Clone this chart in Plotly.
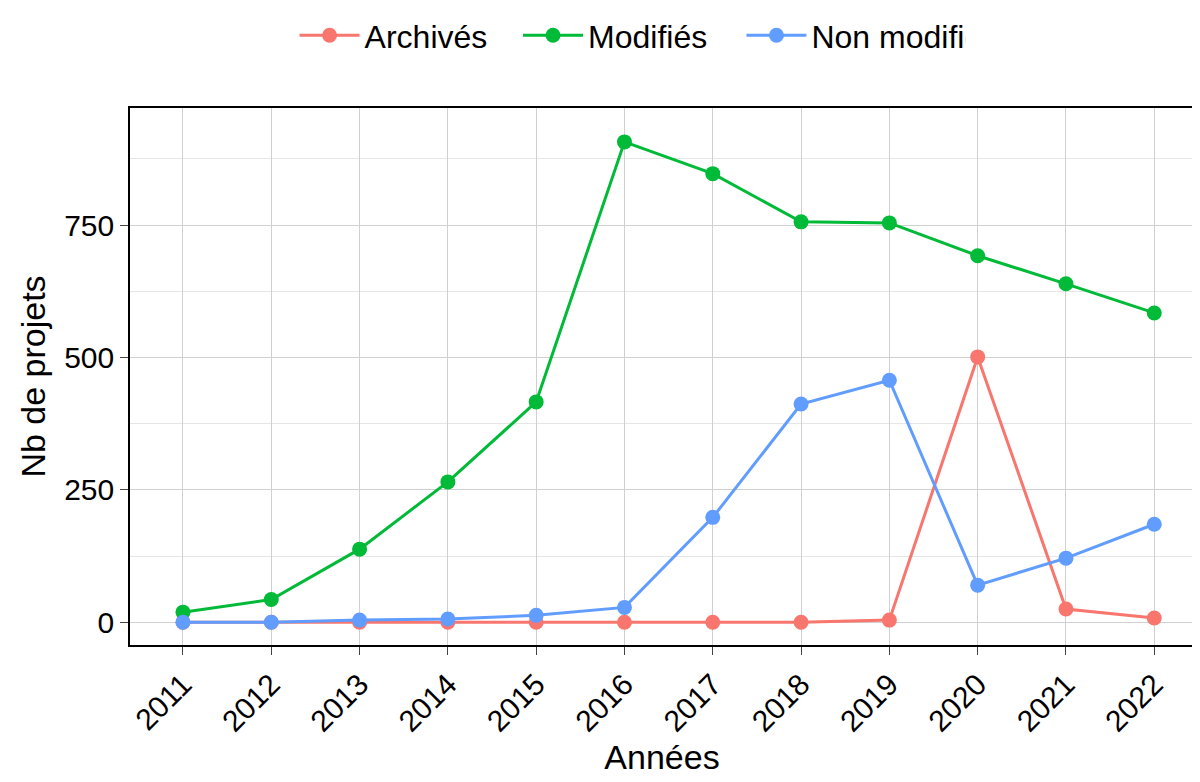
import plotly.graph_objects as go

years = list(range(2011, 2023))
archives = [0, 0, 0, 0, 0, 0, 0, 0, 4, 501, 25, 8]
modifies = [19, 43, 138, 265, 416, 907, 847, 756, 754, 692, 639, 584]
non_modifies = [0, 0, 4, 6, 13, 28, 198, 412, 457, 70, 121, 185]

series = [("Archivés", archives, "#F8766D"), ("Modifiés", modifies, "#00BA38"), ("Non modifiés", non_modifies, "#619CFF")]
fig = go.Figure()
for name, vals, col in series:
    fig.add_trace(go.Scatter(x=years, y=vals, name=name, mode="lines+markers",
                             line=dict(color=col, width=3), marker=dict(size=15, color=col)))

font = dict(family="Liberation Sans, Arial", size=30, color="black")
fig.update_layout(
    width=1200, height=782, plot_bgcolor="white", paper_bgcolor="white",
    margin=dict(l=122, r=14, t=100, b=145), font=font,
    legend=dict(orientation="h", x=0.47, xanchor="center", y=1.0, yref="container", yanchor="top",
                font=dict(size=32), itemwidth=60, entrywidth=0.21, entrywidthmode="fraction"),
    xaxis=dict(range=[2010.4, 2022.45], tickvals=years, tickangle=-45, showgrid=True, automargin=False,
               gridcolor="#d0d0d0", showline=True, linecolor="black", mirror=True, linewidth=1.5,
               ticks="outside", ticklen=8, zeroline=False,
               title=dict(text="Années", font=dict(size=34), standoff=0)),
    yaxis=dict(range=[-43, 971], tickvals=[0, 250, 500, 750], showgrid=True, gridcolor="#d0d0d0", automargin=False,
               minor=dict(tickvals=[125, 375, 625, 875], showgrid=True, gridcolor="#e6e6e6"),
               showline=True, linecolor="black", mirror=True, linewidth=1.5,
               ticks="outside", ticklen=8, zeroline=False,
               title=dict(text="Nb de projets", font=dict(size=34), standoff=8)),
)
fig.write_html("out.html")
